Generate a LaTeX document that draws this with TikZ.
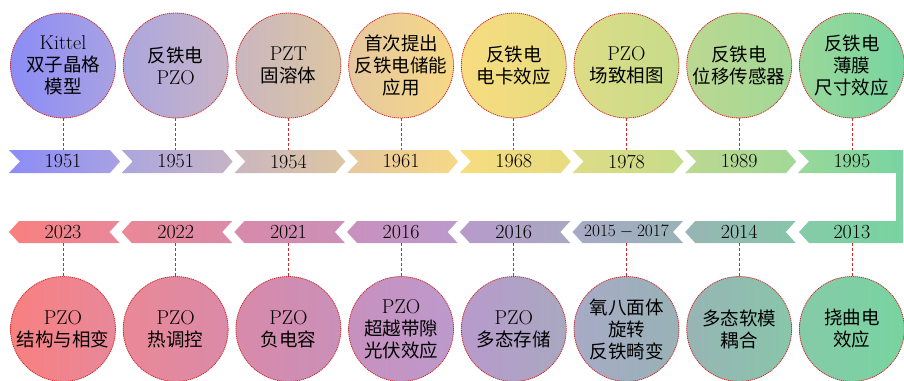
\documentclass[tikz,border=0pt]{standalone}
\usepackage{fontspec}
\newfontfamily\cjk{Noto Sans CJK SC}
\newcommand{\zh}[1]{{\cjk\fontsize{18.5}{22}\selectfont #1}}
\definecolor{dotred}{HTML}{CC2A2A}
% top row colours (left -> right)
\definecolor{tl0}{HTML}{8C8CF6}\definecolor{tr0}{HTML}{A8A2E2}
\definecolor{tl1}{HTML}{ACA6DE}\definecolor{tr1}{HTML}{C6B4C6}
\definecolor{tl2}{HTML}{CAB6C0}\definecolor{tr2}{HTML}{DCC6A2}
\definecolor{tl3}{HTML}{E6C8A0}\definecolor{tr3}{HTML}{F6D886}
\definecolor{tl4}{HTML}{F8DC80}\definecolor{tr4}{HTML}{E6DC80}
\definecolor{tl5}{HTML}{DEDC86}\definecolor{tr5}{HTML}{C6DC8A}
\definecolor{tl6}{HTML}{BCD890}\definecolor{tr6}{HTML}{A2D898}
\definecolor{tl7}{HTML}{9AD89A}\definecolor{tr7}{HTML}{78D4A0}
% bottom row colours (left -> right)
\definecolor{bl0}{HTML}{F88080}\definecolor{br0}{HTML}{E8889A}
\definecolor{bl1}{HTML}{EA8896}\definecolor{br1}{HTML}{DA8AA8}
\definecolor{bl2}{HTML}{D88AAA}\definecolor{br2}{HTML}{CA90B8}
\definecolor{bl3}{HTML}{C890BE}\definecolor{br3}{HTML}{BC9ACC}
\definecolor{bl4}{HTML}{B89ACC}\definecolor{br4}{HTML}{A8A8C0}
\definecolor{bl5}{HTML}{A8AAC6}\definecolor{br5}{HTML}{98B2B6}
\definecolor{bl6}{HTML}{98B4B4}\definecolor{br6}{HTML}{88C6AA}
\definecolor{bl7}{HTML}{86CAA8}\definecolor{br7}{HTML}{78D4A0}
\begin{document}
\begin{tikzpicture}[x=1pt,y=-1pt,
  bubble/.style={circle,minimum size=105pt,inner sep=0pt,draw=dotred,line width=0.8pt,dash pattern=on 1.2pt off 0.8pt},
  lbl/.style={align=center,font=\fontsize{20}{22}\selectfont,inner sep=0pt},
  yearlbl/.style={font=\fontsize{20}{22}\selectfont,minimum height=23pt,inner sep=0pt},
  conn/.style={draw=dotred,line width=0.8pt,dash pattern=on 3pt off 2pt}]
\path[use as bounding box] (0,0) rectangle (904,380);
% top arrows
\foreach \i in {0,...,6}{
  \pgfmathsetmacro\L{9+112.7*\i}
  \shade[left color=tl\i,right color=tr\i] (\L,150) -- ({\L+101},150) -- ({\L+111},161.5) -- ({\L+101},173) -- (\L,173) -- ({\L+11},161.5) -- cycle;
}
\shade[left color=tl7,right color=tr7] (798,150) -- (903,150) -- (903,173) -- (798,173) -- (809,161.5) -- cycle;
\fill[tr7] (896,150) rectangle (903,243);
% bottom arrows
\foreach \i in {0,...,6}{
  \pgfmathsetmacro\L{9+112.7*\i}
  \shade[left color=bl\i,right color=br\i] (\L,232) -- ({\L+10},221) -- ({\L+110.5},221) -- ({\L+100.5},232) -- ({\L+110.5},243) -- ({\L+10},243) -- cycle;
}
\shade[left color=bl7,right color=br7] (799,232) -- (809,221) -- (903,221) -- (903,243) -- (809,243) -- cycle;
% top items
\foreach \i/\yr/\txt in {
  0/1951/{Kittel\\\zh{双子晶格}\\\zh{模型}},
  1/1951/{\zh{反铁电}\\PZO},
  2/1954/{PZT\\\zh{固溶体}},
  3/1961/{\zh{首次提出}\\\zh{反铁电储能}\\\zh{应用}},
  4/1968/{\zh{反铁电}\\\zh{电卡效应}},
  5/1978/{PZO\\\zh{场致相图}},
  6/1989/{\zh{反铁电}\\\zh{位移传感器}},
  7/1995/{\zh{反铁电}\\\zh{薄膜}\\\zh{尺寸效应}}}{
  \pgfmathsetmacro\cx{63+112.7*\i}
  \node[bubble,left color=tl\i,right color=tr\i] (tc\i) at (\cx,65.5) {};
  \node[lbl] (tt\i) at (tc\i) {\txt};
  \node[yearlbl] (ty\i) at (\cx,161.5) {\yr};
  \draw[conn] (tc\i.south) -- (ty\i.north);
}
% bottom items
\foreach \i/\yr/\txt in {
  0/2023/{PZO\\\zh{结构与相变}},
  1/2022/{PZO\\\zh{热调控}},
  2/2021/{PZO\\\zh{负电容}},
  3/2016/{PZO\\\zh{超越带隙}\\\zh{光伏效应}},
  4/2016/{PZO\\\zh{多态存储}},
  5/{\fontsize{16}{18}\selectfont$2015-2017$}/{\zh{氧八面体}\\\zh{旋转}\\\zh{反铁畸变}},
  6/2014/{\zh{多态软模}\\\zh{耦合}},
  7/2013/{\zh{挠曲电}\\\zh{效应}}}{
  \pgfmathsetmacro\cx{63+112.7*\i}
  \node[bubble,left color=bl\i,right color=br\i] (bc\i) at (\cx,329) {};
  \node[lbl] (bt\i) at (bc\i) {\txt};
  \node[yearlbl,minimum height=22pt] (by\i) at (\cx,232) {\yr};
  \draw[conn] (by\i.south) -- (bc\i.north);
}
\end{tikzpicture}
\end{document}
